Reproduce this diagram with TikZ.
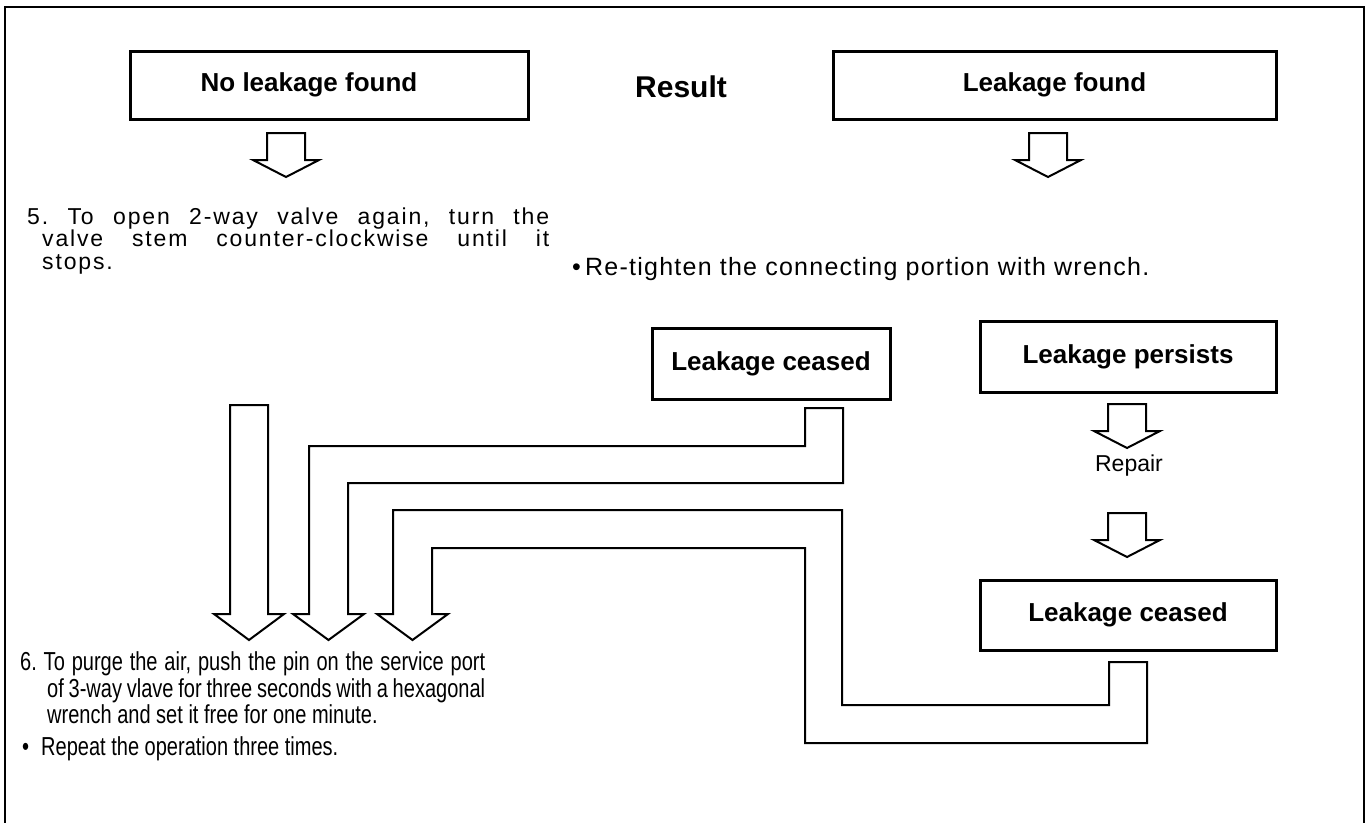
\documentclass[tikz,border=0pt]{standalone}
\usepackage{fontspec}
\setmainfont{Liberation Sans}
\newfontfamily\stepfont[LetterSpace=8]{Liberation Sans}
\newfontfamily\tightfont[LetterSpace=5]{Liberation Sans}
\newfontfamily\notefont[FakeStretch=0.77]{Liberation Sans}
\usetikzlibrary{positioning}
\frenchspacing

\begin{document}
\begin{tikzpicture}[x=1pt, y=-1pt,
    result/.style={rectangle, draw, line width=3pt, minimum height=68pt,
        font=\fontsize{26}{30}\selectfont\bfseries},
    blockarrow/.style={line width=2pt, line join=miter},
    textline/.style={anchor=base west, inner sep=0pt}]

\useasboundingbox (0,0) rectangle (1372,822);

%cornice
\draw[line width=2pt] (5,830) -- (5,7) -- (1364,7) -- (1364,830);

% ======================================================
% Caselle risultato
% ======================================================
\node[result, minimum width=398pt] (noleak) at (329,85) {\hspace*{-40pt}No leakage found};
\node[font=\fontsize{30}{34}\selectfont\bfseries] (result) at (681,87) {Result};
\node[result, minimum width=443pt] (leak) at (1054.5,85) {Leakage found};

\node[result, minimum width=238pt, minimum height=71pt] (ceased) at (771,364) {Leakage ceased};
\node[result, minimum width=296pt, minimum height=71pt] (persists) at (1128,357) {Leakage persists};
\node[result, minimum width=296pt, minimum height=70pt] (ceasedtwo) at (1128,615) {Leakage ceased};

% frecce piccole
\foreach \x/\y in {286/133, 1048/133, 1127/404, 1127/513} {
    \draw[blockarrow]
        (\x-19,\y) -- (\x+19,\y) -- (\x+19,\y+27) -- (\x+33,\y+27)
        -- (\x,\y+44) -- (\x-33,\y+27) -- (\x-19,\y+27) -- cycle;
}

\node[font=\fontsize{23}{27}\selectfont] (repair) at (1129,466) {Repair};

% ======================================================
% Testi
% ======================================================
\node[textline] (stepfive) at (27,224)
    {\stepfont\fontsize{23}{26}\selectfont\makebox[522pt][s]{5. To open 2-way valve again, turn the}};
\node[textline] (stepfiveb) at (42,246.5)
    {\stepfont\fontsize{23}{26}\selectfont\makebox[507pt][s]{valve stem counter-clockwise until it}};
\node[textline] (stepfivec) at (42,269)
    {\stepfont\fontsize{23}{26}\selectfont stops.};

\node[textline] (retighten) at (572,275)
    {\tightfont\fontsize{25}{28}\selectfont\textbullet\,Re-tighten the connecting portion with wrench.};

\node[textline] (stepsix) at (20,670)
    {\notefont\fontsize{26}{28}\selectfont\makebox[465pt][s]{6. To purge the air, push the pin on the service port}};
\node[textline] (stepsixb) at (47,697)
    {\notefont\fontsize{26}{28}\selectfont\makebox[438pt][s]{of 3-way vlave for three seconds with a hexagonal}};
\node[textline] (stepsixc) at (47,723)
    {\notefont\fontsize{26}{28}\selectfont wrench and set it free for one minute.};
\node[textline] (repeat) at (22,755)
    {\notefont\fontsize{26}{28}\selectfont\textbullet\hspace{12pt}Repeat the operation three times.};

% ======================================================
% Frecce grandi
% ======================================================
% dritta
\draw[blockarrow]
    (230,405) -- (268,405) -- (268,614) -- (284,614) -- (249,640)
    -- (214,614) -- (230,614) -- cycle;

% da Leakage ceased (sopra)
\draw[blockarrow]
    (309,614) -- (309,446) -- (805,446) -- (805,408) -- (843,408)
    -- (843,483) -- (348,483) -- (348,614) -- (364,614) -- (328.5,640)
    -- (293,614) -- cycle;

% da Leakage ceased (sotto)
\draw[blockarrow]
    (393,614) -- (393,510) -- (842,510) -- (842,705) -- (1109,705)
    -- (1109,662) -- (1147,662) -- (1147,743) -- (805,743) -- (805,548)
    -- (432,548) -- (432,614) -- (448,614) -- (412.5,640)
    -- (377,614) -- cycle;

\end{tikzpicture}
\end{document}
